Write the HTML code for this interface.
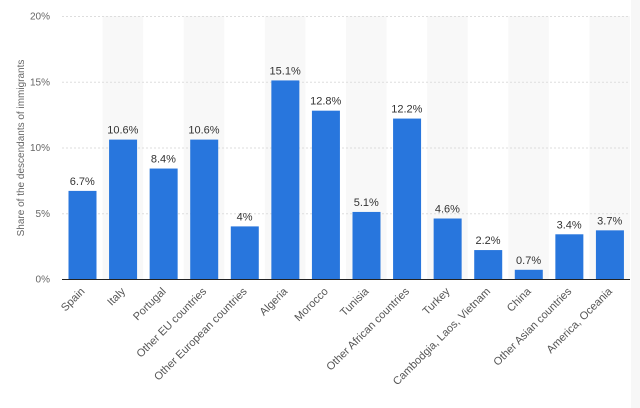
<!DOCTYPE html>
<html><head><meta charset="utf-8"><style>
html,body{margin:0;padding:0;background:#fff;}
svg{display:block;font-family:"Liberation Sans",sans-serif;}
</style></head><body>
<svg width="640" height="408" viewBox="0 0 640 408">
<rect x="631" y="0" width="9" height="408" fill="#f7f7f7"/>
<g id="bands"></g>
<g id="grid"></g>
<g id="bars"></g>
<line x1="62" y1="279.5" x2="630" y2="279.5" stroke="#222" stroke-width="1"/>
<text transform="translate(24,148) rotate(-90)" text-anchor="middle" font-size="10" fill="#666">Share of the descendants of immigrants</text>
</svg>
<script>
var ns="http://www.w3.org/2000/svg",svg=document.querySelector('svg');
function el(p,t,a,txt){var e=document.createElementNS(ns,t);for(var k in a)e.setAttribute(k,a[k]);if(txt!=null)e.textContent=txt;document.getElementById(p)?document.getElementById(p).appendChild(e):svg.appendChild(e);return e;}
var d=[["Spain",6.7,"6.7%"],["Italy",10.6,"10.6%"],["Portugal",8.4,"8.4%"],["Other EU countries",10.6,"10.6%"],["Other European countries",4,"4%"],["Algeria",15.1,"15.1%"],["Morocco",12.8,"12.8%"],["Tunisia",5.1,"5.1%"],["Other African countries",12.2,"12.2%"],["Turkey",4.6,"4.6%"],["Cambodgia, Laos, Vietnam",2.2,"2.2%"],["China",0.7,"0.7%"],["Other Asian countries",3.4,"3.4%"],["America, Oceania",3.7,"3.7%"]];
var x0=62,w=568/14,y0=279,s=263/20;
d.forEach(function(r,i){var cx=x0+w*i;if(i%2==1)el("bands","rect",{x:cx,y:16,width:w,height:263,fill:"#f8f8f8"});});
[0,5,10,15,20].forEach(function(v){var y=y0-v*s;if(v>0)el("grid","line",{x1:62,x2:630,y1:y+0.5,y2:y+0.5,stroke:"#ddd","stroke-dasharray":"2,2"});el("grid","text",{x:50,y:y+3.5,"text-anchor":"end","font-size":"10",fill:"#666"},v+"%");});
d.forEach(function(r,i){var cx=x0+w*i,h=r[1]*s;el("bars","rect",{x:cx+6.5,y:y0-h,width:28,height:h,fill:"#2876dd"});
el("bars","text",{x:cx+w/2,y:y0-h-6,"text-anchor":"middle","font-size":"11",fill:"#333"},r[2]);
el("bars","text",{transform:"translate("+(cx+w/2+3)+",292) rotate(-45)","text-anchor":"end","font-size":"11",fill:"#555"},r[0]);});
</script>
</body></html>
